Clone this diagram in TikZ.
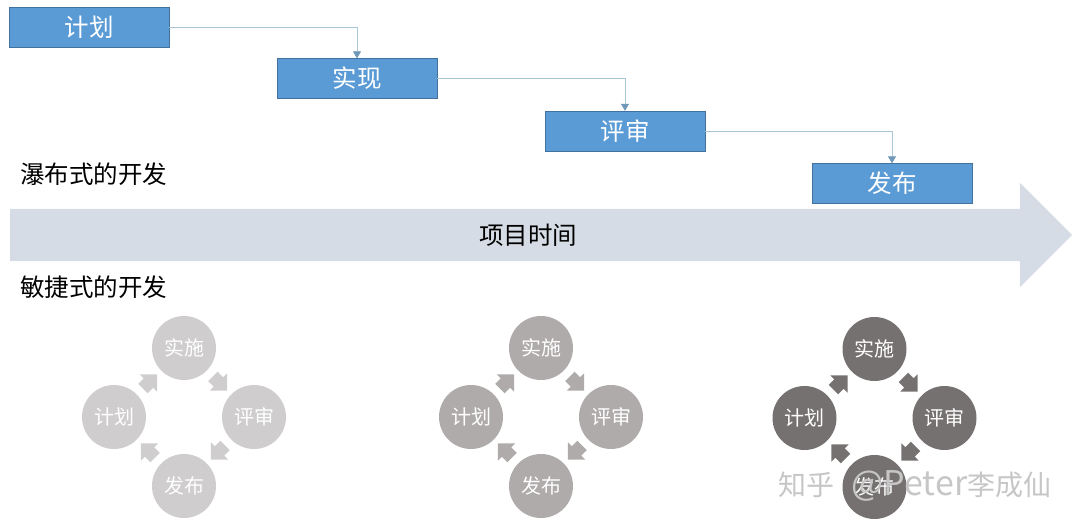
\documentclass[tikz,border=0pt]{standalone}
\usepackage{fontspec}
\setmainfont{Noto Sans CJK SC}
\usetikzlibrary{arrows.meta,shapes.arrows,calc}
\definecolor{stagefill}{HTML}{5B9BD5}
\definecolor{stageline}{HTML}{41719C}
\definecolor{linkline}{HTML}{A9C6DA}
\definecolor{linktip}{HTML}{6F97B8}
\definecolor{timefill}{HTML}{D6DCE5}
\definecolor{markgray}{HTML}{C6C6C6}
\tikzstyle{stage}=[rectangle,draw=stageline,fill=stagefill,minimum width=160pt,minimum height=40pt,inner sep=0pt,text=white,font=\fontsize{24.5}{26}\selectfont]
\tikzstyle{link} = [draw=linkline,semithick,-{Triangle[color=linktip,length=7pt,width=8pt]}]
\tikzstyle{timebar}=[single arrow,fill=timefill,minimum height=1062pt,text height=52pt,text depth=0pt,single arrow head extend=26pt,single arrow head indent=0pt,inner sep=0pt]
\tikzstyle{caption}=[inner sep=0pt,font=\fontsize{24.5}{26}\selectfont]
\tikzstyle{phase}=[circle,minimum size=64pt,inner sep=0pt,text=white,font=\fontsize{20}{22}\selectfont]
\tikzstyle{turn}=[single arrow,minimum height=20pt,text height=13pt,text depth=0pt,single arrow head extend=5.5pt,single arrow head indent=0pt,inner sep=0pt,xshift=-2pt]
\tikzstyle{watermark}=[inner sep=0pt,text=markgray,font=\fontsize{28}{30}\selectfont]

\begin{document}
\begin{tikzpicture}[x=1pt,y=-1pt]
    \useasboundingbox (0,0) rectangle (1080,529);

    % First we draw the waterfall stages
    \foreach \pos/\name/\txt in {{(89,27)/plan/计划}, {(357,78.5)/build/实现}, {(625,131)/review/评审}, {(892,183.5)/ship/发布}}
        \node[stage] (\name) at \pos {\txt};

    % Connect stages with elbows
    \foreach \source/ \dest in {plan/build, build/review, review/ship}
        \path[link] (\source.east) -| (\dest.north);

    % Time arrow and captions
    \node[timebar] (timeline) at (528,235) {};
    \node[caption] (timetext) at (528,235) {项目时间};
    \node[caption,anchor=west] (waterfall) at (20,174) {瀑布式的开发};
    \node[caption,anchor=west] (agile) at (20,287) {敏捷式的开发};

    % The three agile cycles
    \foreach \i/\cx/\cy/\shade in {1/184/417/CFCDCD, 2/541/417/AFABAB, 3/874.5/418/767171} {
        \definecolor{cyclefill}{HTML}{\shade}
        \node[phase,fill=cyclefill] (top\i) at (\cx,\cy-69) {实施};
        \node[phase,fill=cyclefill] (right\i) at (\cx+70,\cy) {评审};
        \node[phase,fill=cyclefill] (bottom\i) at (\cx,\cy+69) {发布};
        \node[phase,fill=cyclefill] (left\i) at (\cx-70,\cy) {计划};
        \node[rotate=-45,turn,fill=cyclefill] (turna\i) at ($(top\i)!0.5!(right\i)$) {};
        \node[rotate=-135,turn,fill=cyclefill] (turnb\i) at ($(right\i)!0.5!(bottom\i)$) {};
        \node[rotate=135,turn,fill=cyclefill] (turnc\i) at ($(bottom\i)!0.5!(left\i)$) {};
        \node[rotate=45,turn,fill=cyclefill] (turnd\i) at ($(left\i)!0.5!(top\i)$) {};
    }

    \node[watermark] (mark) at (915,486) {知乎\hspace{17pt}{\fontsize{34}{36}\selectfont @Peter}李成仙};
\end{tikzpicture}
\end{document}
